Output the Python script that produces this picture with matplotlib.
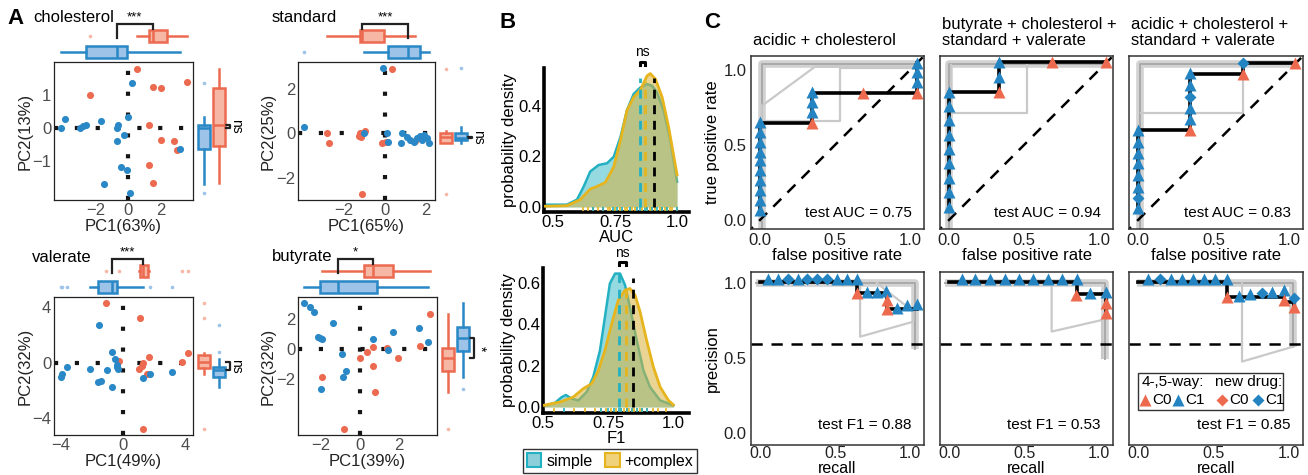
import numpy as np
import matplotlib
matplotlib.use('Agg')
import matplotlib.pyplot as plt
from matplotlib.patches import Patch, Rectangle

plt.rcParams['font.family'] = ['Liberation Sans', 'DejaVu Sans']

# ---------------- data : panel A (PCA scatter) ----------------
chol_red_x = [0.51, 3.54, 1.47, 1.98, -2.32, 1.27, 1.98, 2.77, 2.93, 1.27, 1.47]
chol_red_y = [1.8, 1.4, 1.23, 1.22, 1.0, 0.1, -0.35, -0.4, -0.67, -1.12, -1.65]
chol_blue_x = [0.2, -3.84, -4.08, -2.93, -2.73, -2.57, -1.68, -0.04, -0.61, -0.67, -0.24, -0.71, 3.13, -0.46, -0.1, -1.47, 0.1]
chol_blue_y = [1.37, 0.28, 0.0, 0.02, 0.07, 0.1, 0.23, 0.33, 0.1, 0.0, -0.22, -0.4, -0.63, -1.18, -1.25, -1.68, -1.97]

std_red_x = [0.35, -2.82, -2.69, -1.21, -1.16, -0.97, -1.24, -0.16, -1.1, 0.05, 1.45]
std_red_y = [2.89, 0.03, -0.45, 0.0, -0.18, 0.12, -0.12, -0.45, -2.71, -0.4, -0.35]
std_blue_x = [-0.08, -3.92, -1.0, 0.08, 0.16, 0.81, 0.76, 1.05, 1.21, 1.42, 1.53, 1.69, 1.77, 1.9, 2.02, 2.15]
std_blue_y = [2.96, 0.27, 0.03, 0.0, -0.38, 0.0, -0.42, -0.15, -0.3, -0.38, -0.23, -0.12, -0.3, -0.08, -0.23, -0.42]

val_red_x = [-1.07, 1.11, 1.69, 4.15, 3.78, 1.32, 1.22, 1.07, 1.54, -0.21, 1.28]
val_red_y = [4.29, 3.25, 0.43, 0.67, 0.02, -0.05, -0.24, -0.48, -0.82, 0.14, -4.82]
val_blue_x = [-1.52, -0.66, -0.49, -0.38, -0.34, -0.28, -3.59, -3.87, -3.95, -2.09, -1.03, -1.56, -1.41, -0.66, 1.28, 1.75, 3.18]
val_blue_y = [2.72, 0.8, 0.27, -0.17, -0.34, -0.48, -0.29, -0.84, -1.01, -0.48, -0.53, -1.37, -1.33, -1.73, -1.08, -0.82, -0.7]

but_red_x = [3.59, 0.65, 0.38, 0.0, 1.37, 1.97, 0.65, 3.08, -1.93, 0.77, -0.8]
but_red_y = [2.3, 0.11, -0.22, -0.62, 0.04, -0.62, -1.1, 0.22, -1.83, -2.83, -5.3]
but_blue_x = [-2.87, -2.56, -2.36, -1.37, -2.14, -2.05, -1.97, 0.65, 1.68, 3.03, 3.47, -0.92, 1.45, -0.72, -0.89, -2.0]
but_blue_y = [3.07, 2.8, 2.47, 1.7, 0.82, 0.75, 0.66, 0.64, 1.15, 1.41, 0.44, -0.33, -0.07, -1.46, -1.88, -2.65]

# ---------------- data : panel B (densities) ----------------
auc_simple_x = [0.469, 0.556, 0.597, 0.624, 0.65, 0.684, 0.718, 0.745, 0.772, 0.798, 0.825, 0.852, 0.879, 0.899, 0.919, 0.946, 0.973, 1.0]
auc_simple_y = [0.009, 0.009, 0.029, 0.081, 0.14, 0.166, 0.173, 0.199, 0.277, 0.382, 0.447, 0.473, 0.486, 0.48, 0.454, 0.382, 0.264, 0.1]
auc_complex_x = [0.469, 0.556, 0.61, 0.65, 0.677, 0.711, 0.745, 0.772, 0.798, 0.825, 0.852, 0.879, 0.892, 0.913, 0.94, 0.966, 1.0]
auc_complex_y = [0.003, 0.005, 0.029, 0.071, 0.081, 0.097, 0.159, 0.264, 0.382, 0.434, 0.463, 0.519, 0.528, 0.506, 0.434, 0.316, 0.127]
auc_rug_simple = [0.66, 0.7, 0.74, 0.76, 0.78, 0.81, 0.84, 0.85, 0.87, 0.88, 0.9, 0.92, 0.94, 0.96, 1.0]
auc_rug_complex = [0.62, 0.64, 0.66, 0.68, 0.7, 0.72, 0.73, 0.75, 0.77, 0.79, 0.8, 0.82, 0.83, 0.86, 0.88, 0.89, 0.9, 0.91, 0.93, 0.94, 0.95, 0.96, 0.97, 0.98, 1.0]
auc_vlines = [0.849, 0.872, 0.906]
auc_vtops = [0.51, 0.50, 0.51]

f1_simple_x = [0.5, 0.545, 0.571, 0.587, 0.609, 0.635, 0.667, 0.692, 0.718, 0.737, 0.756, 0.776, 0.795, 0.814, 0.833, 0.859, 0.885, 0.91, 0.949, 1.0]
f1_simple_y = [0.005, 0.02, 0.048, 0.058, 0.04, 0.032, 0.073, 0.145, 0.274, 0.435, 0.597, 0.645, 0.645, 0.59, 0.484, 0.323, 0.177, 0.097, 0.032, 0.008]
f1_complex_x = [0.5, 0.564, 0.615, 0.654, 0.686, 0.712, 0.737, 0.763, 0.788, 0.814, 0.833, 0.853, 0.872, 0.897, 0.923, 0.949, 0.981, 1.0]
f1_complex_y = [0.008, 0.024, 0.048, 0.089, 0.113, 0.177, 0.274, 0.403, 0.516, 0.565, 0.573, 0.54, 0.46, 0.323, 0.194, 0.097, 0.032, 0.01]
f1_rug_simple = [0.58, 0.72, 0.75, 0.77, 0.79, 0.8, 0.82, 0.84, 0.86, 0.88, 0.9]
f1_rug_complex = [0.54, 0.62, 0.66, 0.7, 0.72, 0.74, 0.76, 0.78, 0.8, 0.81, 0.82, 0.83, 0.84, 0.85, 0.86, 0.87, 0.88, 0.9, 0.92, 0.94, 0.97]
f1_vlines = [0.792, 0.818, 0.846]
f1_vtops = [0.645, 0.573, 0.622]

# ---------------- data : panel C (ROC / PR) ----------------
roc_titles = ['acidic + cholesterol', 'butyrate + cholesterol +\nstandard + valerate', 'acidic + cholesterol +\nstandard + valerate']
roc_auc = ['0.75', '0.94', '0.83']
pr_f1 = ['0.88', '0.53', '0.85']

roc1_path_x = [0, 0, 0.344, 0.344, 1.044, 1.044]
roc1_path_y = [0.067, 0.649, 0.649, 0.849, 0.849, 1.049]
roc1_c1_x = [0, 0, 0, 0, 0, 0, 0, 0, 0, 0, 0.344, 0.344, 0.344, 1.044, 1.044, 1.044]
roc1_c1_y = [0.067, 0.133, 0.2, 0.267, 0.333, 0.4, 0.455, 0.522, 0.589, 0.655, 0.722, 0.789, 0.855, 0.922, 0.989, 1.049]
roc1_c0_x = [0.344, 0.689, 1.044]
roc1_c0_y = [0.649, 0.849, 0.849]
roc1_nc1_x, roc1_nc1_y = [], []
roc1_gthick_x = [0.011, 0.011, 1.044]
roc1_gthick_y = [-0.06, 1.04, 1.04]
roc1_glight = [([0.011, 0.011, 0.367, 1.044], [0.0, 0.76, 1.022, 1.022]),
               ([0.011, 0.533, 0.533, 1.044], [0.662, 0.662, 1.011, 1.011])]

roc2_path_x = [0, 0, 0.336, 0.336, 1.047]
roc2_path_y = [0.089, 0.855, 0.855, 1.051, 1.051]
roc2_c1_x = [0, 0, 0, 0, 0, 0, 0, 0, 0, 0.336, 0.336]
roc2_c1_y = [0.089, 0.184, 0.278, 0.378, 0.471, 0.567, 0.667, 0.76, 0.855, 0.956, 1.051]
roc2_c0_x = [0.336, 0.684, 1.047]
roc2_c0_y = [0.855, 1.051, 1.051]
roc2_nc1_x, roc2_nc1_y = [], []
roc2_gthick_x = [0.0, 0.0, 1.047]
roc2_gthick_y = [-0.06, 1.04, 1.04]
roc2_glight = [([0.015, 0.015, 0.52, 0.52], [1.03, 0.716, 0.716, 1.03])]

roc3_path_x = [0, 0, 0.342, 0.342, 0.698, 0.698, 1.04]
roc3_path_y = [0.078, 0.6, 0.6, 0.973, 0.973, 1.049, 1.049]
roc3_c1_x = [0, 0, 0, 0, 0, 0, 0, 0.342, 0.342, 0.342, 0.342]
roc3_c1_y = [0.078, 0.222, 0.3, 0.378, 0.449, 0.522, 0.6, 0.671, 0.744, 0.9, 0.978]
roc3_c0_x = [0.342, 0.698, 1.04]
roc3_c0_y = [0.6, 0.973, 1.049]
roc3_nc1_x = [0, 0.342, 0.698]
roc3_nc1_y = [0.144, 0.822, 1.049]
roc3_gthick_x = [0.01, 0.01, 1.04]
roc3_gthick_y = [-0.06, 1.04, 1.04]
roc3_glight = [([0.02, 0.698, 0.698], [0.716, 0.716, 1.045])]

pr1_path_x = [0, 0.644, 0.644, 0.844, 0.844, 1.044]
pr1_path_y = [1.009, 1.009, 0.931, 0.931, 0.824, 0.824]
pr1_c1_x = [0.056, 0.122, 0.256, 0.511, 0.578, 0.644, 0.711, 0.778, 0.84, 0.911, 0.978, 1.044]
pr1_c1_y = [1.024, 1.024, 1.024, 1.024, 1.024, 1.024, 0.942, 0.942, 0.949, 0.833, 0.856, 0.862]
pr1_c0_x = [0.644, 0.844, 0.844]
pr1_c0_y = [0.931, 0.889, 0.827]
pr1_nc1_x = [0.189, 0.316, 0.382, 0.449]
pr1_nc1_y = [1.024, 1.024, 1.024, 1.024]
pr1_gthick_x = [-0.03, 1.03, 1.03]
pr1_gthick_y = [1.0, 1.0, 0.56]
pr1_glight = [([0.667, 0.667, 1.022, 1.022, 0.778], [1.0, 0.642, 0.742, 0.81, 1.0])]

pr2_path_x = [0, 0.851, 0.851, 1.047, 1.047]
pr2_path_y = [1.009, 1.009, 0.925, 0.925, 0.8]
pr2_c1_x = [0.084, 0.173, 0.273, 0.373, 0.467, 0.562, 0.662, 0.756, 0.851, 0.94, 1.047]
pr2_c1_y = [1.024, 1.024, 1.024, 1.024, 1.024, 1.024, 1.024, 1.024, 1.024, 0.93, 0.938]
pr2_c0_x = [0.847, 1.047, 1.047]
pr2_c0_y = [0.92, 0.864, 0.802]
pr2_nc1_x, pr2_nc1_y = [], []
pr2_gthick_x = [-0.03, 1.04, 1.04]
pr2_gthick_y = [1.0, 1.0, 0.49]
pr2_glight = [([0.684, 0.684, 1.02, 1.02], [1.0, 0.676, 0.753, 0.5])]

pr3_path_x = [0, 0.591, 0.591, 0.964, 0.964, 1.036, 1.036]
pr3_path_y = [1.009, 1.009, 0.909, 0.909, 0.876, 0.876, 0.842]
pr3_c1_x = [0.069, 0.218, 0.291, 0.364, 0.44, 0.513, 0.591, 0.669, 0.742, 0.887, 0.964]
pr3_c1_y = [1.024, 1.024, 1.024, 1.024, 1.024, 1.024, 1.024, 0.913, 0.927, 0.942, 0.953]
pr3_c0_x = [0.591, 0.964, 1.036]
pr3_c0_y = [0.904, 0.887, 0.842]
pr3_nc1_x = [0.147, 0.82, 1.036]
pr3_nc1_y = [1.024, 0.935, 0.898]
pr3_gthick_x = [-0.01, 1.03, 1.03]
pr3_gthick_y = [1.0, 1.0, 0.576]
pr3_glight = [([0.689, 0.689, 1.03], [1.0, 0.476, 0.576])]

pr_baseline = 0.591

# ---------------- styling ----------------
W, H = 1308, 475
fig = plt.figure(figsize=(W / 100, H / 100), dpi=100)

RED = '#EC6A50'; RED_L = '#F6B7A5'
BLUE = '#2A88C6'; BLUE_L = '#9DC4E8'
TEAL = '#22B0C2'; GOLD = '#E6B51E'; GOLD_F = '#D8B23A'
MRED = '#EE6A4E'; MBLUE = '#2484C2'


def add_ax(l, t, r, b):
    return fig.add_axes([l / W, 1 - b / H, (r - l) / W, (b - t) / H])


def ftext(x, y, s, **kw):
    return fig.text(x / W, 1 - y / H, s, **kw)


def draw_box(ax, vals, pos, c, cl, vert):
    ax.boxplot([vals], positions=[pos], widths=0.78, vert=vert, patch_artist=True,
               showcaps=False, manage_ticks=False,
               boxprops=dict(facecolor=cl, edgecolor=c, linewidth=1.8),
               whiskerprops=dict(color=c, linewidth=1.8),
               medianprops=dict(color=c, linewidth=1.8),
               flierprops=dict(marker='o', markersize=2.6, markerfacecolor=cl,
                               markeredgecolor='none'))


def pca_panel(box, xlim, ylim, xticks, yticks, rx, ry, bx, by, xlabel, ylabel,
              title, title_xy, top_upper_red, right_first_red, top_sig, right_sig):
    l, t, r, b = box
    ax = add_ax(l, t, r, b)
    dot = (0, (1, 4.0))
    ax.axhline(0, color='#151515', lw=3.0, ls=dot, dash_capstyle='butt', zorder=1)
    ax.axvline(0, color='#151515', lw=3.0, ls=dot, dash_capstyle='butt', zorder=1)
    ax.scatter(rx, ry, s=26, color=RED, zorder=3, lw=0)
    ax.scatter(bx, by, s=26, color=BLUE, zorder=3, lw=0)
    ax.set_xlim(xlim); ax.set_ylim(ylim)
    ax.set_xticks(xticks); ax.set_yticks(yticks)
    ax.tick_params(labelsize=12, labelcolor='#4D4D4D', length=0, pad=2)
    for s in ax.spines.values():
        s.set_linewidth(0.9); s.set_color('#222222')
    ax.set_xlabel(xlabel, fontsize=12, labelpad=1, color='#222222')
    ax.set_ylabel(ylabel, fontsize=12, labelpad=0, color='#222222')
    ftext(title_xy[0], title_xy[1], title, fontsize=12, va='center', ha='left')

    # top marginal boxplots (x)
    axt = add_ax(l, t - 42, r, t - 2)
    pr, pb = (2, 1) if top_upper_red else (1, 2)
    draw_box(axt, rx, pr, RED, RED_L, False)
    draw_box(axt, bx, pb, BLUE, BLUE_L, False)
    axt.set_xlim(xlim); axt.set_ylim(0.5, 3.0); axt.axis('off')
    mr, mb = np.median(rx), np.median(bx)
    up_x, lo_x = (mr, mb) if top_upper_red else (mb, mr)
    axt.plot([lo_x, lo_x, up_x, up_x], [1.85, 2.72, 2.72, 2.45], color='#222222',
             lw=1.6, clip_on=False, solid_joinstyle='miter')
    axt.text((mr + mb) / 2, 2.78, top_sig, ha='center', va='bottom', fontsize=9.5,
             clip_on=False)

    # right marginal boxplots (y)
    axr = add_ax(r + 2, t, r + 42, b)
    qr, qb = (1, 2) if right_first_red else (2, 1)
    draw_box(axr, ry, qr, RED, RED_L, True)
    draw_box(axr, by, qb, BLUE, BLUE_L, True)
    axr.set_ylim(ylim); axr.set_xlim(0.4, 3.07); axr.axis('off')
    nr, nb = np.median(ry), np.median(by)
    axr.plot([2.45, 2.75, 2.75, 2.45], [nr, nr, nb, nb], color='#222222', lw=1.6,
             clip_on=False)
    axr.text(3.12, (nr + nb) / 2, right_sig, rotation=-90, ha='center', va='center',
             fontsize=10, clip_on=False)


# ---------------- panel A ----------------
ftext(16, 18, 'A', fontsize=16, fontweight='bold', ha='center', va='center')
pca_panel((54, 62, 193, 200), (-4.5, 3.92), (-2.17, 2.0), [-2, 0, 2], [-1, 0, 1],
          chol_red_x, chol_red_y, chol_blue_x, chol_blue_y, 'PC1(63%)', 'PC2(13%)',
          'cholesterol', (33, 17), True, False, '***', 'ns')
pca_panel((298, 62, 435, 200), (-4.2, 2.42), (-3.0, 3.21), [-2, 0, 2], [-2, 0, 2],
          std_red_x, std_red_y, std_blue_x, std_blue_y, 'PC1(65%)', 'PC2(25%)',
          'standard', (272, 17), True, True, '***', 'ns')
pca_panel((54, 297, 193, 435), (-4.4, 4.5), (-5.23, 4.75), [-4, 0, 4], [-4, 0, 4],
          val_red_x, val_red_y, val_blue_x, val_blue_y, 'PC1(49%)', 'PC2(32%)',
          'valerate', (32, 257), True, True, '***', 'ns')
pca_panel((298, 297, 437, 435), (-3.18, 3.95), (-5.7, 3.44), [-2, 0, 2], [-2, 0, 2],
          but_red_x, but_red_y, but_blue_x, but_blue_y, 'PC1(39%)', 'PC2(32%)',
          'butyrate', (272, 257), True, True, '*', '*')


# ---------------- panel B ----------------
def dens_panel(box, xlim, ylim, yticks, sx, sy, cx, cy, rug_s, rug_c, vl, vtops,
               ns_y, xlabel):
    ax = add_ax(*box)
    ax.fill_between(sx, sy, color=TEAL, alpha=0.48, lw=0, zorder=1)
    ax.plot(sx, sy, color=TEAL, lw=1.8, zorder=2)
    ax.fill_between(cx, cy, color=GOLD_F, alpha=0.55, lw=0, zorder=3)
    ax.plot(cx, cy, color=GOLD, lw=2.0, zorder=4)
    rb = (ylim[1] - ylim[0]) * 0.035
    ax.vlines(rug_c, ylim[0] + rb * 0.15, ylim[0] + rb, color=GOLD, lw=1.2, zorder=5)
    ax.vlines(rug_s, ylim[0] + rb * 0.15, ylim[0] + rb, color=TEAL, lw=1.2, zorder=5)
    for x, top, c in zip(vl, vtops, [TEAL, GOLD, 'black']):
        ax.plot([x, x], [0, top], color=c, lw=2.0, ls=(0, (3.2, 2.4)), zorder=6)
    x1, x2 = vl[0], vl[1]
    ax.plot([x1, x1, x2, x2], [ns_y - 0.012, ns_y, ns_y, ns_y - 0.012], color='black',
            lw=2.2, clip_on=False)
    ax.text((x1 + x2) / 2, ns_y + 0.01, 'ns', ha='center', va='bottom', fontsize=10,
            clip_on=False)
    ax.set_xlim(xlim); ax.set_ylim(ylim)
    ax.set_xticks([0.5, 0.75, 1.0]); ax.set_xticklabels(['0.5', '0.75', '1.0'])
    ax.set_yticks(yticks); ax.set_yticklabels(['%.1f' % v for v in yticks])
    for s in ['top', 'right']:
        ax.spines[s].set_visible(False)
    for s in ['left', 'bottom']:
        ax.spines[s].set_linewidth(2.6); ax.spines[s].set_color('black')
    ax.tick_params(labelsize=12, length=0, pad=2, colors='black')
    ax.set_ylabel('probability density', fontsize=12, labelpad=1)
    ax.set_xlabel(xlabel, fontsize=12, labelpad=0)
    return ax


ftext(508, 22, 'B', fontsize=16, fontweight='bold', ha='center', va='center')
dens_panel((544, 68, 689, 212), (0.464, 1.048), (-0.02, 0.55), [0.0, 0.2, 0.4],
           auc_simple_x, auc_simple_y, auc_complex_x, auc_complex_y,
           auc_rug_simple, auc_rug_complex, auc_vlines, auc_vtops, 0.575, 'AUC')
dens_panel((543, 268, 689, 413), (0.499, 1.06), (-0.029, 0.672), [0.0, 0.2, 0.4, 0.6],
           f1_simple_x, f1_simple_y, f1_complex_x, f1_complex_y,
           f1_rug_simple, f1_rug_complex, f1_vlines, f1_vtops, 0.70, 'F1')
leg_handles = [Patch(facecolor='#8CCFD8', edgecolor=TEAL, lw=1.5, label='simple'),
               Patch(facecolor='#F0D27A', edgecolor=GOLD, lw=1.5, label='+complex')]
fig.legend(handles=leg_handles, loc='center', bbox_to_anchor=(610 / W, 1 - 461 / H),
           ncol=2, fontsize=11.5, frameon=True, fancybox=False, edgecolor='black',
           handlelength=0.9, handleheight=0.9, handletextpad=0.3, columnspacing=0.8,
           borderpad=0.25, borderaxespad=0)


# ---------------- panel C ----------------
def curve_panel(box, path_x, path_y, c1_x, c1_y, c0_x, c0_y, nc1_x, nc1_y,
                gthick_x, gthick_y, glight, kind, value, show_y):
    ax = add_ax(*box)
    ax.set_xlim(-0.06, 1.093)
    if kind == 'roc':
        ax.set_ylim(-0.06, 1.093)
        ax.plot([-0.1, 1.2], [-0.1, 1.2], color='black', lw=1.8, ls=(0, (4.5, 3.5)), zorder=2)
    else:
        ax.set_ylim(-0.08, 1.073)
        ax.axhline(pr_baseline, color='black', lw=1.8, ls=(0, (4.5, 3.5)), zorder=2)
    ax.plot(gthick_x, gthick_y, color='#D2D2D2', lw=5.5, zorder=1, solid_capstyle='butt')
    ax.plot(gthick_x, gthick_y, color='#A9A9A9', lw=1.4, zorder=1)
    for gx, gy in glight:
        ax.plot(gx, gy, color='#C9C9C9', lw=1.6, zorder=1)
    ax.plot(path_x, path_y, color='black', lw=2.6, zorder=3)
    ax.plot(c1_x, c1_y, ls='none', marker='^', ms=8.5, color=MBLUE, mec='none', zorder=4)
    ax.plot(c0_x, c0_y, ls='none', marker='^', ms=8.5, color=MRED, mec='none', zorder=4)
    if len(nc1_x):
        ax.plot(nc1_x, nc1_y, ls='none', marker='D', ms=6.5, color=MBLUE, mec='none', zorder=4)
    ax.set_xticks([0, 0.5, 1.0]); ax.set_xticklabels(['0.0', '0.5', '1.0'])
    ax.set_yticks([0, 0.5, 1.0])
    if show_y:
        ax.set_yticklabels(['0.0', '0.5', '1.0'])
    else:
        ax.set_yticklabels([])
    ax.tick_params(labelsize=12, length=0, pad=3, colors='#222222')
    for s in ax.spines.values():
        s.set_linewidth(1.1); s.set_color('#333333')
    if kind == 'roc':
        ax.set_xlabel('false positive rate', fontsize=12, labelpad=0)
        if show_y:
            ax.set_ylabel('true positive rate', fontsize=12, labelpad=3)
        ax.text(0.93, 0.095, 'test AUC = ' + value, transform=ax.transAxes, ha='right',
                va='center', fontsize=11)
    else:
        ax.tick_params(axis='x', pad=1, labelsize=11.5)
        ax.set_xlabel('recall', fontsize=11.5, labelpad=0)
        if show_y:
            ax.set_ylabel('precision', fontsize=12, labelpad=3)
        ax.text(0.93, 0.115, 'test F1 = ' + value, transform=ax.transAxes, ha='right',
                va='center', fontsize=11)
    return ax


ftext(712, 22, 'C', fontsize=16, fontweight='bold', ha='center', va='center')
col_lr = [(751, 924), (940, 1113), (1129, 1303)]
roc_sets = [
    (roc1_path_x, roc1_path_y, roc1_c1_x, roc1_c1_y, roc1_c0_x, roc1_c0_y, roc1_nc1_x, roc1_nc1_y, roc1_gthick_x, roc1_gthick_y, roc1_glight),
    (roc2_path_x, roc2_path_y, roc2_c1_x, roc2_c1_y, roc2_c0_x, roc2_c0_y, roc2_nc1_x, roc2_nc1_y, roc2_gthick_x, roc2_gthick_y, roc2_glight),
    (roc3_path_x, roc3_path_y, roc3_c1_x, roc3_c1_y, roc3_c0_x, roc3_c0_y, roc3_nc1_x, roc3_nc1_y, roc3_gthick_x, roc3_gthick_y, roc3_glight),
]
pr_sets = [
    (pr1_path_x, pr1_path_y, pr1_c1_x, pr1_c1_y, pr1_c0_x, pr1_c0_y, pr1_nc1_x, pr1_nc1_y, pr1_gthick_x, pr1_gthick_y, pr1_glight),
    (pr2_path_x, pr2_path_y, pr2_c1_x, pr2_c1_y, pr2_c0_x, pr2_c0_y, pr2_nc1_x, pr2_nc1_y, pr2_gthick_x, pr2_gthick_y, pr2_glight),
    (pr3_path_x, pr3_path_y, pr3_c1_x, pr3_c1_y, pr3_c0_x, pr3_c0_y, pr3_nc1_x, pr3_nc1_y, pr3_gthick_x, pr3_gthick_y, pr3_glight),
]
last_ax = None
for i, (l, r) in enumerate(col_lr):
    curve_panel((l, 56, r, 229), *roc_sets[i], 'roc', roc_auc[i], i == 0)
    last_ax = curve_panel((l, 272, r, 445), *pr_sets[i], 'pr', pr_f1[i], i == 0)
    ftext(l + 2, 48, roc_titles[i], fontsize=12, ha='left', va='bottom', linespacing=1.05)

# legend inside last PR panel
ax = last_ax
ax.add_patch(Rectangle((0.052, 0.2), 0.833, 0.216, transform=ax.transAxes, fill=False,
                       edgecolor='#333333', lw=1.0, zorder=6))
ax.text(0.072, 0.364, '4-,5-way:', transform=ax.transAxes, ha='left', va='center', fontsize=11, zorder=7)
ax.text(0.495, 0.364, 'new drug:', transform=ax.transAxes, ha='left', va='center', fontsize=11, zorder=7)
leg_items = [(0.092, '^', MRED, 'C0'), (0.282, '^', MBLUE, 'C1'),
             (0.534, 'D', MRED, 'C0'), (0.741, 'D', MBLUE, 'C1')]
for x, m, c, lab in leg_items:
    ax.plot([x], [0.258], marker=m, ms=8.5 if m == '^' else 6.5, color=c, mec='none',
            transform=ax.transAxes, clip_on=False, zorder=7)
    ax.text(x + 0.042, 0.258, lab, transform=ax.transAxes, ha='left', va='center', fontsize=11, zorder=7)

fig.savefig('out.png', dpi=100)
